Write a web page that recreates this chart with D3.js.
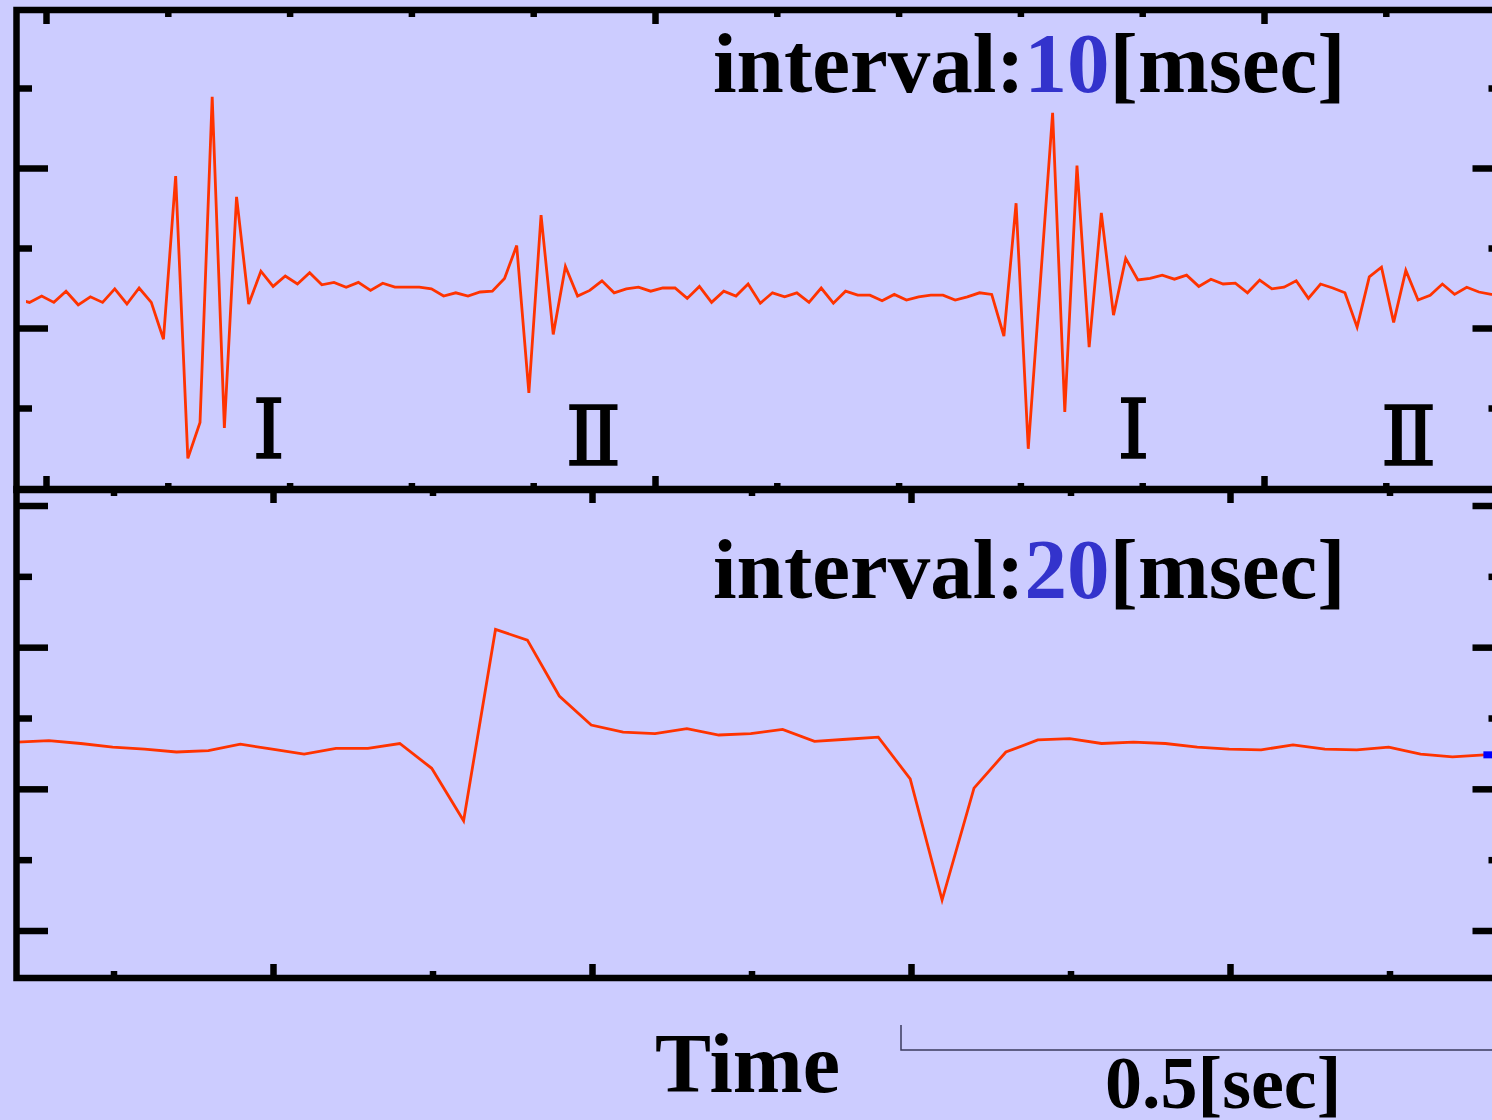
<!DOCTYPE html>
<html>
<head>
<meta charset="utf-8">
<script src="https://cdn.jsdelivr.net/npm/d3@7"></script>
<style>
  html, body { margin: 0; padding: 0; background: #CCCCFF; }
  svg { display: block; }
</style>
</head>
<body>
<svg id="chart" width="1492" height="1120"></svg>
<script>
// ---------------- data ----------------
// Top panel: sampled every 10 ms (time of first sample in seconds)
const topStart = -0.02355;
const topStep = 0.01;
const topValues = [
  -0.64, -0.68, -0.60, -0.68, -0.54, -0.71, -0.61, -0.68, -0.51, -0.70,
  -0.50, -0.68, -1.14, 0.90, -2.63, -2.18, 1.89, -2.25, 0.64, -0.70,
  -0.29, -0.48, -0.35, -0.45, -0.31, -0.46, -0.43, -0.49, -0.43, -0.53,
  -0.44, -0.49, -0.49, -0.49, -0.51, -0.60, -0.56, -0.60, -0.55, -0.54,
  -0.38, 0.03, -1.81, 0.41, -1.08, -0.23, -0.60, -0.53, -0.41, -0.56,
  -0.51, -0.49, -0.54, -0.50, -0.50, -0.63, -0.48, -0.68, -0.54, -0.60,
  -0.45, -0.69, -0.56, -0.61, -0.56, -0.68, -0.50, -0.69, -0.54, -0.59,
  -0.59, -0.66, -0.58, -0.65, -0.61, -0.59, -0.59, -0.65, -0.61, -0.56,
  -0.58, -1.10, 0.56, -2.51, -0.41, 1.69, -2.05, 1.03, -1.24, 0.44,
  -0.84, -0.13, -0.40, -0.38, -0.34, -0.39, -0.34, -0.48, -0.39, -0.45,
  -0.44, -0.56, -0.40, -0.51, -0.49, -0.41, -0.63, -0.45, -0.50, -0.56,
  -0.99, -0.36, -0.24, -0.93, -0.28, -0.65, -0.59, -0.45, -0.58, -0.49,
  -0.55, -0.58, -0.58
];

// Bottom panel: sampled every 20 ms
const botStart = -0.1605;
const botStep = 0.02;
const botValues = [
  -0.34, -0.32, -0.36, -0.41, -0.44, -0.48, -0.46, -0.37, -0.44, -0.51,
  -0.43, -0.43, -0.36, -0.71, -1.45, 1.25, 1.10, 0.31, -0.10, -0.20,
  -0.22, -0.15, -0.24, -0.22, -0.16, -0.33, -0.30, -0.27, -0.86, -2.57,
  -0.99, -0.48, -0.31, -0.29, -0.36, -0.34, -0.36, -0.41, -0.44, -0.45,
  -0.38, -0.44, -0.45, -0.41, -0.51, -0.55, -0.52
];

// Tick values
const topXMajor = [0, 0.5, 1.0];
const topXMinor = [0.1, 0.2, 0.3, 0.4, 0.6, 0.7, 0.8, 0.9, 1.1];
const botXMajor = [0, 0.2, 0.4, 0.6];
const botXMinor = [-0.1, 0.1, 0.3, 0.5, 0.7];
const topYMajor = [-1, 1];
const topYMinor = [-2, 0, 2];
const botYMajor = [-3, -1, 1, 3];
const botYMinor = [-2, 0, 2];

// Annotations
const topTitle = ["interval:", "10", "[msec]"];
const botTitle = ["interval:", "20", "[msec]"];
const xLabel = "Time";
const scaleLabel = "0.5[sec]";
const scaleLength = 0.5; // seconds (top-panel time scale)
const burstLabels = [
  { text: "Ⅰ", t: 0.1828, v: -2.625 },
  { text: "Ⅱ", t: 0.4495, v: -2.7125 },
  { text: "Ⅰ", t: 0.8928, v: -2.625 },
  { text: "Ⅱ", t: 1.1187, v: -2.7125 }
];

// ---------------- layout ----------------
const svg = d3.select("#chart");
const W = 1492, H = 1120;
const frameLeft = 16.5, frameRight = 1504;
const topFrame = { top: 10, bottom: 490 };
const botFrame = { top: 489, bottom: 978 };
const lineColor = "#FF3300";
const blue = "#3333CC";
const serif = "'Liberation Serif', 'Times New Roman', Times, serif";

svg.append("rect").attr("width", W).attr("height", H).attr("fill", "#CCCCFF");

const xTop = d3.scaleLinear().domain([0, 1]).range([46, 1264]);
const yTop = d3.scaleLinear().domain([-3, 3]).range([488, 8]);
const xBot = d3.scaleLinear().domain([0, 0.1]).range([273, 432.5]);
const yBot = d3.scaleLinear().domain([-3, 3]).range([930.5, 505.5]);

const topData = topValues.map((v, i) => ({ t: topStart + i * topStep, v }));
const botData = botValues.map((v, i) => ({ t: botStart + i * botStep, v }));

const defs = svg.append("defs");
defs.append("clipPath").attr("id", "clipTop")
  .append("rect").attr("x", 26).attr("y", topFrame.top)
  .attr("width", frameRight - 26).attr("height", topFrame.bottom - topFrame.top);
defs.append("clipPath").attr("id", "clipBot")
  .append("rect").attr("x", frameLeft).attr("y", botFrame.top)
  .attr("width", frameRight - frameLeft).attr("height", botFrame.bottom - botFrame.top);

// signal lines
svg.append("path")
  .datum(topData)
  .attr("clip-path", "url(#clipTop)")
  .attr("fill", "none")
  .attr("stroke", lineColor)
  .attr("stroke-width", 2.8)
  .attr("stroke-linejoin", "miter")
  .attr("d", d3.line().x(d => xTop(d.t)).y(d => yTop(d.v)));

svg.append("path")
  .datum(botData)
  .attr("clip-path", "url(#clipBot)")
  .attr("fill", "none")
  .attr("stroke", lineColor)
  .attr("stroke-width", 2.8)
  .attr("d", d3.line().x(d => xBot(d.t)).y(d => yBot(d.v)));

// blue end marker on bottom trace
const lastBot = botData[botData.length - 1];
svg.append("rect")
  .attr("x", xBot(lastBot.t) - 1)
  .attr("y", yBot(lastBot.v) - 3.5)
  .attr("width", 10).attr("height", 7)
  .attr("fill", "#0000FF");

// frames
function frame(f) {
  svg.append("rect")
    .attr("x", frameLeft).attr("y", f.top)
    .attr("width", frameRight - frameLeft).attr("height", f.bottom - f.top)
    .attr("fill", "none").attr("stroke", "#000").attr("stroke-width", 6.5);
}
frame(topFrame);
frame(botFrame);

// ticks via d3 axes
function ticks(axisFn, scale, values, size, transform) {
  const g = svg.append("g")
    .attr("transform", transform)
    .call(axisFn(scale).tickValues(values).tickSize(size).tickFormat(""));
  g.select(".domain").remove();
  g.selectAll(".tick line").attr("stroke", "#000").attr("stroke-width", 6.5);
}
const XMAJ = 14, XMIN = 7, YMAJ = 31.5, YMIN = 15.5;
// top panel x ticks
ticks(d3.axisBottom, xTop, topXMajor, XMAJ, `translate(0,${topFrame.top})`);
ticks(d3.axisBottom, xTop, topXMinor, XMIN, `translate(0,${topFrame.top})`);
ticks(d3.axisTop, xTop, topXMajor, XMAJ, `translate(0,${topFrame.bottom})`);
ticks(d3.axisTop, xTop, topXMinor, XMIN, `translate(0,${topFrame.bottom})`);
// top panel y ticks
ticks(d3.axisRight, yTop, topYMajor, YMAJ, `translate(${frameLeft},0)`);
ticks(d3.axisRight, yTop, topYMinor, YMIN, `translate(${frameLeft},0)`);
ticks(d3.axisLeft, yTop, topYMajor, YMAJ, `translate(${frameRight},0)`);
ticks(d3.axisLeft, yTop, topYMinor, YMIN, `translate(${frameRight},0)`);
// bottom panel x ticks
ticks(d3.axisBottom, xBot, botXMajor, XMAJ, `translate(0,${botFrame.top})`);
ticks(d3.axisBottom, xBot, botXMinor, XMIN, `translate(0,${botFrame.top})`);
ticks(d3.axisTop, xBot, botXMajor, XMAJ, `translate(0,${botFrame.bottom})`);
ticks(d3.axisTop, xBot, botXMinor, XMIN, `translate(0,${botFrame.bottom})`);
// bottom panel y ticks
ticks(d3.axisRight, yBot, botYMajor, YMAJ, `translate(${frameLeft},0)`);
ticks(d3.axisRight, yBot, botYMinor, YMIN, `translate(${frameLeft},0)`);
ticks(d3.axisLeft, yBot, botYMajor, YMAJ, `translate(${frameRight},0)`);
ticks(d3.axisLeft, yBot, botYMinor, YMIN, `translate(${frameRight},0)`);

// burst labels (Roman numerals)
svg.selectAll("text.burst")
  .data(burstLabels)
  .join("text")
  .attr("class", "burst")
  .attr("x", d => xTop(d.t))
  .attr("y", d => yTop(d.v))
  .attr("text-anchor", "middle")
  .attr("font-family", "'DejaVu Serif', serif")
  .attr("font-weight", 400)
  .attr("font-size", 82)
  .attr("fill", "#000")
  .attr("stroke", "#000")
  .attr("stroke-width", 1.6)
  .text(d => d.text);

// panel titles
function title(parts, baseline) {
  const t = svg.append("text")
    .attr("x", 713).attr("y", baseline)
    .attr("font-family", serif).attr("font-weight", "bold")
    .attr("font-size", 85).attr("fill", "#000");
  t.append("tspan").text(parts[0]);
  t.append("tspan").attr("fill", blue).text(parts[1]);
  t.append("tspan").text(parts[2]);
}
title(topTitle, 92);
title(botTitle, 598);

// x label
svg.append("text")
  .attr("x", 655).attr("y", 1092)
  .attr("font-family", serif).attr("font-weight", "bold")
  .attr("font-size", 84).attr("fill", "#000")
  .text(xLabel);

// scale bar (0.5 s on the top trace's time scale)
const sbX = 901, sbY = 1050;
const sbLen = xTop(scaleLength) - xTop(0);
svg.append("path")
  .attr("d", `M${sbX},1025V${sbY}H${sbX + sbLen}`)
  .attr("fill", "none").attr("stroke", "#3a3a5e").attr("stroke-width", 1.5);
svg.append("text")
  .attr("x", 1105).attr("y", 1108)
  .attr("font-family", serif).attr("font-weight", "bold")
  .attr("font-size", 74).attr("fill", "#000")
  .text(scaleLabel);
</script>
</body>
</html>
